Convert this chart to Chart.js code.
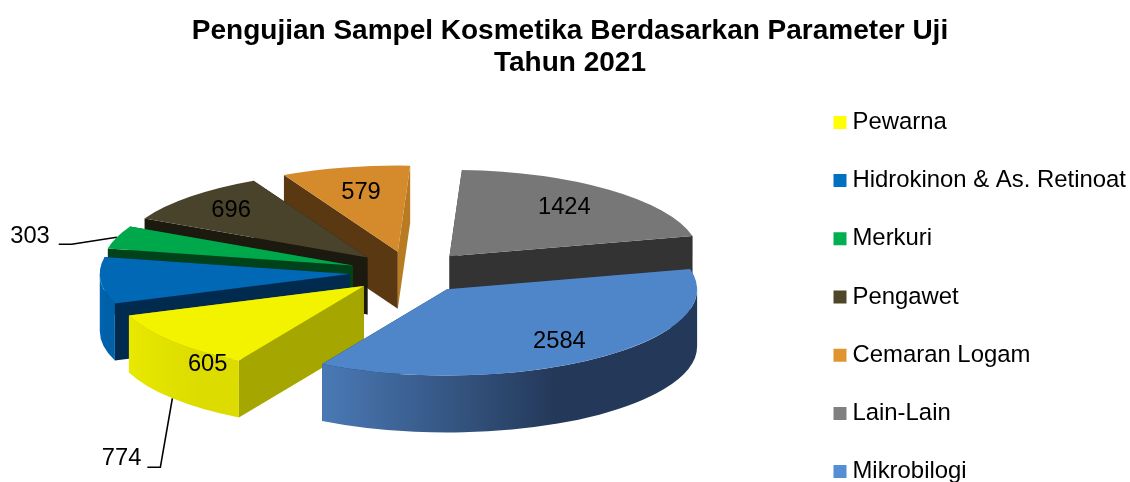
<!DOCTYPE html>
<html>
<head>
<meta charset="utf-8">
<script src="https://cdn.jsdelivr.net/npm/chart.js@4/dist/chart.umd.min.js"></script>
<style>
    html, body { margin: 0; padding: 0; background: #fff; }
    #wrap { width: 1130px; height: 482px; position: relative; }
</style>
</head>
<body>
<div id="wrap"><canvas id="chart"></canvas></div>
<script>
const titleLines = ['Pengujian Sampel Kosmetika Berdasarkan Parameter Uji', 'Tahun 2021'];
const categories = ['Pewarna', 'Hidrokinon & As. Retinoat', 'Merkuri', 'Pengawet', 'Cemaran Logam', 'Lain-Lain', 'Mikrobilogi'];
const values = [774, 605, 303, 696, 579, 1424, 2584];

const legendColors = ['#ffff00', '#0070c0', '#00b050', '#4f4629', '#e09430', '#808080', '#558ed5'];
const topColors = ['#f3f300', '#0068b4', '#00a84c', '#4a432b', '#d58a2c', '#777777', '#4f85c9'];
const startFaceColors = ['#a6a600', '#002a4e', '#00421a', '#1c190f', '#5a3812', '#333333', '#233858'];
const endFaceColors = ['#a6a600', '#002a4e', '#00421a', '#1c190f', '#b87b22', '#333333', '#233858'];
const rimColors = [
    ['#e8e800', '#dcdc00', '#dcdc00'],
    ['#0064ad', '#0060a8', '#0060a8'],
    ['#008a3e', '#008a3e', '#008a3e'],
    ['#1c190f', '#1c190f', '#1c190f'],
    ['#b87b22', '#b87b22', '#b87b22'],
    ['#333333', '#333333', '#333333'],
    ['#4a79b5', '#24395a', '#24395a'],
];

const TILT = 0.345;
const DEPTH = 57;
const RADIUS = 250;
const EXPLODE = 61;

// how each value label sits relative to its slice
const labelPlaces = [
    { along: 1, onRimBottom: true, leader: [[-12, 69], [-25, 69]], textGap: 6, textDy: -9 },
    { along: 0.57, dy: 87 },
    { along: 1, leader: [[-45, 7], [-58, 7]], textGap: 9, textDy: -8 },
    { along: 0.77 },
    { along: 0.7 },
    { along: 0.72, dy: -1 },
    { along: 0.75 },
];

function midAngle(arc) {
    return (arc.startAngle + arc.endAngle) / 2;
}

function pieCenterY(chart) {
    return (chart.chartArea.top + chart.chartArea.bottom) / 2;
}

function drawCutFace(ctx, arc, angle, drop, color) {
    const ex = arc.x + Math.cos(angle) * arc.outerRadius;
    const ey = arc.y + Math.sin(angle) * arc.outerRadius;
    ctx.beginPath();
    ctx.moveTo(arc.x, arc.y);
    ctx.lineTo(ex, ey);
    ctx.lineTo(ex, ey + drop);
    ctx.lineTo(arc.x, arc.y + drop);
    ctx.closePath();
    ctx.fillStyle = color;
    ctx.fill();
}

function drawRim(ctx, arc, drop, colors) {
    const r = arc.outerRadius;
    // only the front half of the circle shows its wall
    [0, Math.PI * 2].forEach(turn => {
        const from = Math.max(arc.startAngle, turn);
        const to = Math.min(arc.endAngle, turn + Math.PI);
        if (to <= from) return;
        const x0 = arc.x + Math.min(Math.cos(from), Math.cos(to)) * r;
        const x1 = arc.x + Math.max(Math.cos(from), Math.cos(to)) * r;
        const grad = ctx.createLinearGradient(x0, 0, x1, 0);
        grad.addColorStop(0, colors[0]);
        grad.addColorStop(0.62, colors[1]);
        grad.addColorStop(1, colors[2]);
        ctx.beginPath();
        ctx.arc(arc.x, arc.y, r, from, to);
        ctx.arc(arc.x, arc.y + drop, r, to, from, true);
        ctx.closePath();
        ctx.fillStyle = grad;
        ctx.fill();
    });
}

const pie3d = {
    id: 'pie3d',
    afterLayout(chart) {
        // legend text runs right up to the canvas edge and sits lower than the plot centre
        const legend = chart.legend;
        legend.left += 6;
        legend.right += 6;
        legend.top += 71;
        legend.bottom += 71;
        chart.chartArea.left += 12;
        chart.chartArea.bottom -= 4;
    },
    afterDatasetsUpdate(chart) {
        // pull the slices apart; the arc's own offset option also changes its radius
        chart.getDatasetMeta(0).data.forEach(arc => {
            const mid = midAngle(arc);
            arc.x += Math.cos(mid) * EXPLODE;
            arc.y += Math.sin(mid) * EXPLODE;
        });
    },
    beforeDatasetsDraw(chart) {
        const ctx = chart.ctx;
        const arcs = chart.getDatasetMeta(0).data;
        const centerY = pieCenterY(chart);
        ctx.save();
        ctx.translate(0, centerY);
        ctx.scale(1, TILT);
        ctx.translate(0, -centerY);

        const drop = DEPTH / TILT;
        const order = arcs.map((arc, i) => i).sort((a, b) =>
            Math.sin(midAngle(arcs[a])) - Math.sin(midAngle(arcs[b])));
        order.forEach(i => {
            const arc = arcs[i];
            drawCutFace(ctx, arc, arc.startAngle, drop, startFaceColors[i]);
            drawCutFace(ctx, arc, arc.endAngle, drop, endFaceColors[i]);
            drawRim(ctx, arc, drop, rimColors[i]);
        });
    },
    afterDatasetsDraw(chart) {
        const ctx = chart.ctx;
        ctx.restore();

        const arcs = chart.getDatasetMeta(0).data;
        const centerY = pieCenterY(chart);
        ctx.save();
        ctx.font = '23.7px "Liberation Sans", Arial, sans-serif';
        ctx.fillStyle = '#000';
        ctx.strokeStyle = '#000';
        ctx.lineWidth = 1.6;
        ctx.textBaseline = 'middle';
        arcs.forEach((arc, i) => {
            const mid = midAngle(arc);
            const place = labelPlaces[i];
            const reach = arc.outerRadius * place.along;
            const px = arc.x + Math.cos(mid) * reach;
            const py = centerY + (arc.y + Math.sin(mid) * reach - centerY) * TILT + (place.onRimBottom ? DEPTH : 0);
            if (place.leader) {
                const last = place.leader[place.leader.length - 1];
                ctx.beginPath();
                ctx.moveTo(px, py);
                place.leader.forEach(p => ctx.lineTo(px + p[0], py + p[1]));
                ctx.stroke();
                ctx.textAlign = 'right';
                ctx.fillText(String(values[i]), px + last[0] - place.textGap, py + last[1] + place.textDy);
            } else {
                ctx.textAlign = 'center';
                ctx.fillText(String(values[i]), px, py + (place.dy || 0));
            }
        });
        ctx.restore();
    },
};

new Chart(document.getElementById('chart'), {
    type: 'pie',
    data: {
        labels: categories,
        datasets: [{
            data: values,
            backgroundColor: topColors,
            borderWidth: 0,
            clip: false,
        }],
    },
    plugins: [pie3d],
    options: {
        responsive: true,
        maintainAspectRatio: false,
        animation: false,
        events: [],
        rotation: 210,
        radius: RADIUS,
        layout: { padding: { left: 10, bottom: 30 } },
        plugins: {
            tooltip: { enabled: false },
            title: {
                display: true,
                text: titleLines,
                color: '#000',
                font: { family: '"Liberation Sans", Arial, sans-serif', size: 28, weight: 'bold', lineHeight: 1.12 },
                padding: { top: 16, bottom: 18 },
            },
            legend: {
                position: 'right',
                labels: {
                    color: '#000',
                    font: { family: '"Liberation Sans", Arial, sans-serif', size: 23.9 },
                    usePointStyle: true,
                    pointStyle: 'rect',
                    boxWidth: 1,
                    boxHeight: 13,
                    padding: 34.3,
                    generateLabels(chart) {
                        return categories.map((name, i) => ({
                            text: name,
                            fillStyle: legendColors[i],
                            strokeStyle: legendColors[i],
                            lineWidth: 0,
                            pointStyle: 'rect',
                            index: i,
                        }));
                    },
                },
            },
        },
    },
});
</script>
</body>
</html>
